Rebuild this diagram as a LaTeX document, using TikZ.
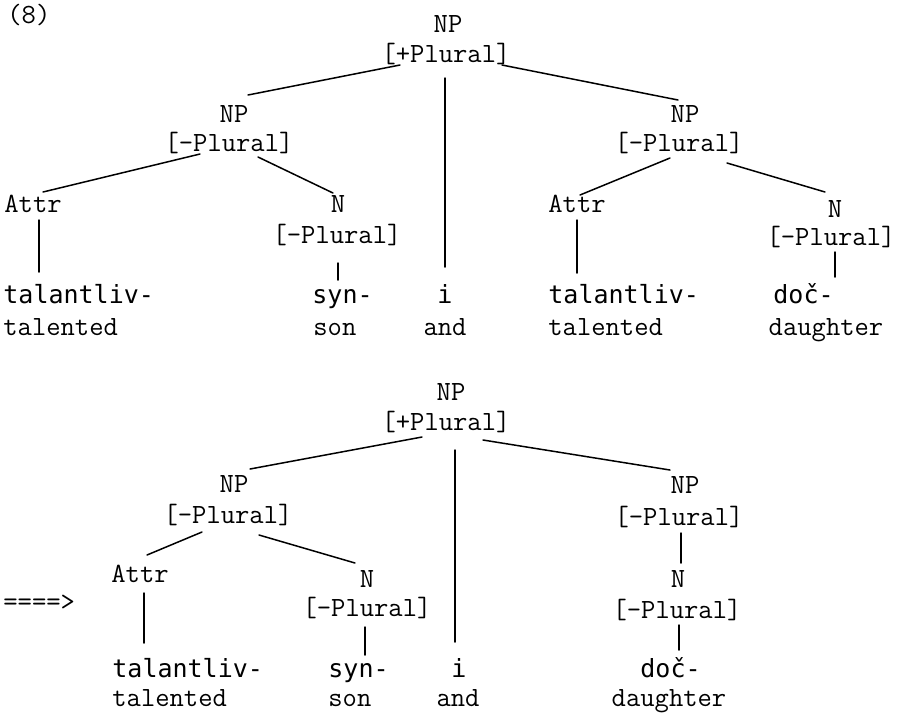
\documentclass[tikz,border=0pt]{standalone}
\usepackage{fontspec}
\newfontfamily\wordfont{DejaVu Sans Mono}
\begin{document}
\begin{tikzpicture}[x=0.5pt,y=-0.5pt,
  lab/.style={inner sep=0pt,anchor=base,font=\ttfamily\fontsize{13.9}{14}\selectfont},
  labw/.style={lab,anchor=base west},
  word/.style={inner sep=0pt,anchor=base west,font=\wordfont\fontsize{12.5}{13}\selectfont},
  wordc/.style={word,anchor=base},
  branch/.style={line width=0.75pt,line cap=round}]
\useasboundingbox (0,0) rectangle (908,714);

% ---------- upper tree ----------
\node[labw] (num) at (7,23) {(8)};
\node[lab] (t0n) at (448,32) {NP};
\node[lab] (t0f) at (446,62) {[+Plural]};
\node[lab] (t1n) at (234,122) {NP};
\node[lab] (t1f) at (229,151) {[-Plural]};
\node[lab] (t1a) at (33,212) {Attr};
\node[lab] (t1N) at (338,212) {N};
\node[lab] (t1Nf) at (337,243) {[-Plural]};
\node[lab] (t2n) at (685,122) {NP};
\node[lab] (t2f) at (679,151) {[-Plural]};
\node[lab] (t2a) at (577,212) {Attr};
\node[lab] (t2N) at (835,217) {N};
\node[lab] (t2Nf) at (831,245) {[-Plural]};

\node[word] (tw1) at (3,303) {talantliv-};
\node[labw] (tg1) at (3,335) {talented};
\node[word] (tw2) at (312,303) {syn-};
\node[labw] (tg2) at (313,335) {son};
\node[wordc] (tw3) at (445,303) {i};
\node[lab] (tg3) at (445,335) {and};
\node[word] (tw4) at (548,303) {talantliv-};
\node[labw] (tg4) at (548,335) {talented};
\node[word] (tw5) at (773,303) {doč-};
\node[lab] (tg5) at (826,335) {daughter};

\draw[branch] ([shift={(-46,3)}]t0f.base) -- ([shift={(14,-27)}]t1n.base);
\draw[branch] ([shift={(-1,16)}]t0f.base) -- ([shift={(0,-36)}]tw3.base);
\draw[branch] ([shift={(56,3)}]t0f.base) -- ([shift={(-7,-22)}]t2n.base);
\draw[branch] ([shift={(-29,3)}]t1f.base) -- ([shift={(10,-20)}]t1a.base);
\draw[branch] ([shift={(29,6)}]t1f.base) -- ([shift={(-5,-19)}]t1N.base);
\draw[branch] ([shift={(6,8)}]t1a.base) -- ([shift={(36,-31)}]tw1.base west);
\draw[branch] ([shift={(1,20)}]t1Nf.base) -- ([shift={(26,-23)}]tw2.base west);
\draw[branch] ([shift={(-9,7)}]t2f.base) -- ([shift={(3,-17)}]t2a.base);
\draw[branch] ([shift={(48,12)}]t2f.base) -- ([shift={(-10,-25)}]t2N.base);
\draw[branch] ([shift={(0,8)}]t2a.base) -- ([shift={(29,-30)}]tw4.base west);
\draw[branch] ([shift={(4,7)}]t2Nf.base) -- ([shift={(62,-26)}]tw5.base west);

% ---------- lower tree ----------
\node[labw] (arrow) at (3,610) {====>};
\node[lab] (b0n) at (451,400) {NP};
\node[lab] (b0f) at (446,430) {[+Plural]};
\node[lab] (b1n) at (234,492) {NP};
\node[lab] (b1f) at (228,523) {[-Plural]};
\node[lab] (b1a) at (140,582) {Attr};
\node[lab] (b1N) at (367,587) {N};
\node[lab] (b1Nf) at (367,616) {[-Plural]};
\node[lab] (b2n) at (685,493) {NP};
\node[lab] (b2f) at (679,525) {[-Plural]};
\node[lab] (b2N) at (678,587) {N};
\node[lab] (b2Nf) at (677,618) {[-Plural]};

\node[word] (bw1) at (112,677) {talantliv-};
\node[labw] (bg1) at (112,706) {talented};
\node[word] (bw2) at (328,677) {syn-};
\node[labw] (bg2) at (328,706) {son};
\node[wordc] (bw3) at (459,677) {i};
\node[lab] (bg3) at (458,706) {and};
\node[word] (bw5) at (640,677) {doč-};
\node[lab] (bg5) at (669,706) {daughter};

\draw[branch] ([shift={(-24,7)}]b0f.base) -- ([shift={(16,-23)}]b1n.base);
\draw[branch] ([shift={(9,20)}]b0f.base) -- ([shift={(-4,-35)}]bw3.base);
\draw[branch] ([shift={(37,10)}]b0f.base) -- ([shift={(-15,-23)}]b2n.base);
\draw[branch] ([shift={(-26,9)}]b1f.base) -- ([shift={(7,-27)}]b1a.base);
\draw[branch] ([shift={(31,12)}]b1f.base) -- ([shift={(-12,-24)}]b1N.base);
\draw[branch] ([shift={(4,11)}]b1a.base) -- ([shift={(32,-34)}]bw1.base west);
\draw[branch] ([shift={(-2,11)}]b1Nf.base) -- ([shift={(37,-22)}]bw2.base west);
\draw[branch] ([shift={(2,8)}]b2f.base) -- ([shift={(3,-24)}]b2N.base);
\draw[branch] ([shift={(2,7)}]b2Nf.base) -- ([shift={(39,-27)}]bw5.base west);
\end{tikzpicture}
\end{document}
